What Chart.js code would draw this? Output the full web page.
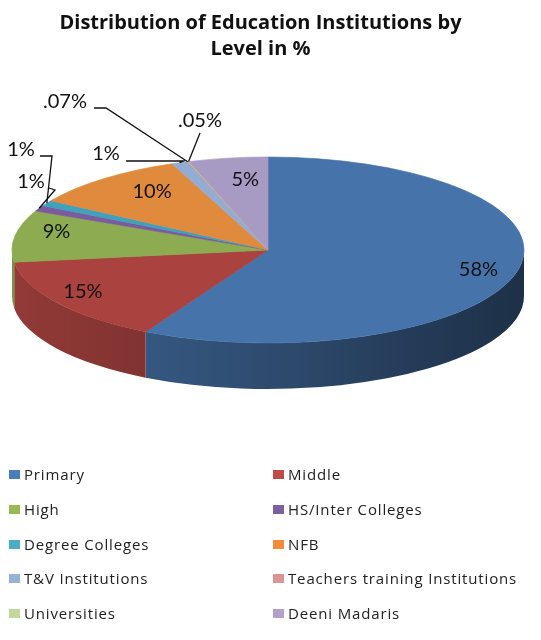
<!DOCTYPE html>
<html><head><meta charset="utf-8">
<script src="https://cdn.jsdelivr.net/npm/chart.js@4/dist/chart.umd.min.js"></script>
<style>
html,body{margin:0;padding:0;background:#fff;}
#wrap{position:relative;width:541px;height:640px;overflow:hidden;}
#c{position:absolute;left:0;top:0;}
#legend{position:absolute;left:0;top:0;width:541px;height:640px;font-family:'Open Sans',Lato,sans-serif;font-size:15px;letter-spacing:0.85px;color:#222;pointer-events:none;}
.item{position:absolute;height:20px;line-height:20px;white-space:nowrap;}
.box{position:absolute;top:6px;width:11px;height:9px;}
.txt{position:absolute;left:15px;top:0;}
</style></head>
<body><div id="wrap"><canvas id="c" width="541" height="640"></canvas><div id="legend"></div></div>
<script>
// ---- data ----
const categories = ['Primary','Middle','High','HS/Inter Colleges','Degree Colleges','NFB','T&V Institutions','Teachers training Institutions','Universities','Deeni Madaris'];
const values = [58, 15, 9, 1, 1, 10, 1, 0.07, 0.05, 5];
const valueLabels = ['58%','15%','9%','1%','1%','10%','1%','.07%','.05%','5%'];
const titleLines = ['Distribution of Education Institutions by', 'Level in %'];

// ---- styles ----
const faceColors = ['#4673A9','#AA4340','#8DAB50','#7A5C9E','#3FA1BC','#E08A3D','#92ACD4','#D38F8D','#BBCF8D','#A89BC3'];
const legendColors = ['#4A7EBB','#BE4B48','#98B954','#7D5FA0','#4BACC6','#F08C3A','#95B3D7','#D99694','#C3D69B','#B3A2C7'];
const GEO = {cx: 268, cy: 250, rx: 256, ry: 93, depth: 46};
const labelFrac = 0.82;
const labelNudge = {0:[7,1], 1:[-12,-2], 2:[-4,-7], 5:[19,0], 9:[10,5]};
const callouts = {
  3: {text:[31,182], path:[[49,188],[55,190]]},
  4: {text:[21,150], path:[[40,156],[52,156]]},
  6: {text:[106,154], path:[[126,161],[184,161]]},
  7: {text:[65,102], path:[[94,108],[106,108]]},
  8: {text:[200,121], path:[[200,133]]}
};

function shade(hex, f){
  const n = parseInt(hex.slice(1),16);
  const r = Math.round(((n>>16)&255)*f), g = Math.round(((n>>8)&255)*f), b = Math.round((n&255)*f);
  return 'rgb('+r+','+g+','+b+')';
}

const pie3d = {
  id: 'pie3d',
  beforeDatasetsDraw(chart){
    const ctx = chart.ctx;
    const meta = chart.getDatasetMeta(0);
    const el0 = meta.data[0];
    const x0 = el0.x, y0 = el0.y, R0 = el0.outerRadius;
    ctx.save();
    meta.data.forEach((el, i) => {
      const a1 = Math.max(el.startAngle, 0), a2 = Math.min(el.endAngle, Math.PI);
      if (a2 <= a1) return;
      const g = ctx.createLinearGradient(GEO.cx - GEO.rx, 0, GEO.cx + GEO.rx, 0);
      g.addColorStop(0, shade(faceColors[i], 0.86));
      g.addColorStop(0.45, shade(faceColors[i], 0.68));
      g.addColorStop(1, shade(faceColors[i], 0.42));
      ctx.beginPath();
      ctx.ellipse(GEO.cx, GEO.cy, GEO.rx, GEO.ry, 0, a1, a2, false);
      ctx.ellipse(GEO.cx, GEO.cy + GEO.depth, GEO.rx, GEO.ry, 0, a2, a1, true);
      ctx.closePath();
      ctx.fillStyle = g;
      ctx.fill();
    });
    ctx.translate(GEO.cx, GEO.cy);
    ctx.scale(GEO.rx / R0, GEO.ry / R0);
    ctx.translate(-x0, -y0);
  },
  afterDatasetsDraw(chart){
    const ctx = chart.ctx;
    ctx.restore();
    const meta = chart.getDatasetMeta(0);
    ctx.save();
    ctx.font = '20px Lato, "Open Sans", sans-serif';
    ctx.fillStyle = '#111';
    ctx.textAlign = 'center';
    ctx.textBaseline = 'middle';
    ctx.strokeStyle = '#111';
    ctx.lineWidth = 1.3;
    meta.data.forEach((el, i) => {
      const mid = (el.startAngle + el.endAngle) / 2;
      const c = callouts[i];
      if (c) {
        const ex = GEO.cx + GEO.rx * Math.cos(mid);
        const ey = GEO.cy + GEO.ry * Math.sin(mid);
        ctx.beginPath();
        ctx.moveTo(c.path[0][0], c.path[0][1]);
        for (let k = 1; k < c.path.length; k++) ctx.lineTo(c.path[k][0], c.path[k][1]);
        ctx.lineTo(ex, ey);
        ctx.stroke();
        ctx.fillText(valueLabels[i], c.text[0], c.text[1]);
      } else {
        const nd = labelNudge[i] || [0,0];
        const x = GEO.cx + labelFrac * GEO.rx * Math.cos(mid) + nd[0];
        const y = GEO.cy + labelFrac * GEO.ry * Math.sin(mid) + nd[1];
        ctx.fillText(valueLabels[i], x, y);
      }
    });
    ctx.restore();
  }
};

new Chart(document.getElementById('c'), {
  type: 'pie',
  data: {
    labels: categories,
    datasets: [{
      data: values,
      backgroundColor: faceColors,
      borderColor: faceColors,
      borderWidth: 1,
      clip: false
    }]
  },
  options: {
    responsive: false,
    animation: false,
    events: [],
    layout: {padding: {right: 20, bottom: 40}},
    plugins: {
      legend: {display: false},
      tooltip: {enabled: false},
      title: {
        display: true,
        text: titleLines,
        color: '#111',
        font: {family: '"Open Sans", Lato, sans-serif', size: 20, weight: 'bold', lineHeight: 1.3},
        padding: {top: 10, bottom: 10}
      }
    }
  },
  plugins: [pie3d]
});

// ---- HTML legend ----
const legendRows = [474, 509, 544, 578, 613];
const legendCols = [9, 273];
const lg = document.getElementById('legend');
categories.forEach((name, i) => {
  const row = Math.floor(i / 2), col = i % 2;
  const d = document.createElement('div');
  d.className = 'item';
  d.style.left = legendCols[col] + 'px';
  d.style.top = (legendRows[row] - 10) + 'px';
  const b = document.createElement('span');
  b.className = 'box';
  b.style.background = legendColors[i];
  const t = document.createElement('span');
  t.className = 'txt';
  t.textContent = name;
  d.appendChild(b); d.appendChild(t);
  lg.appendChild(d);
});
</script>
</body></html>
